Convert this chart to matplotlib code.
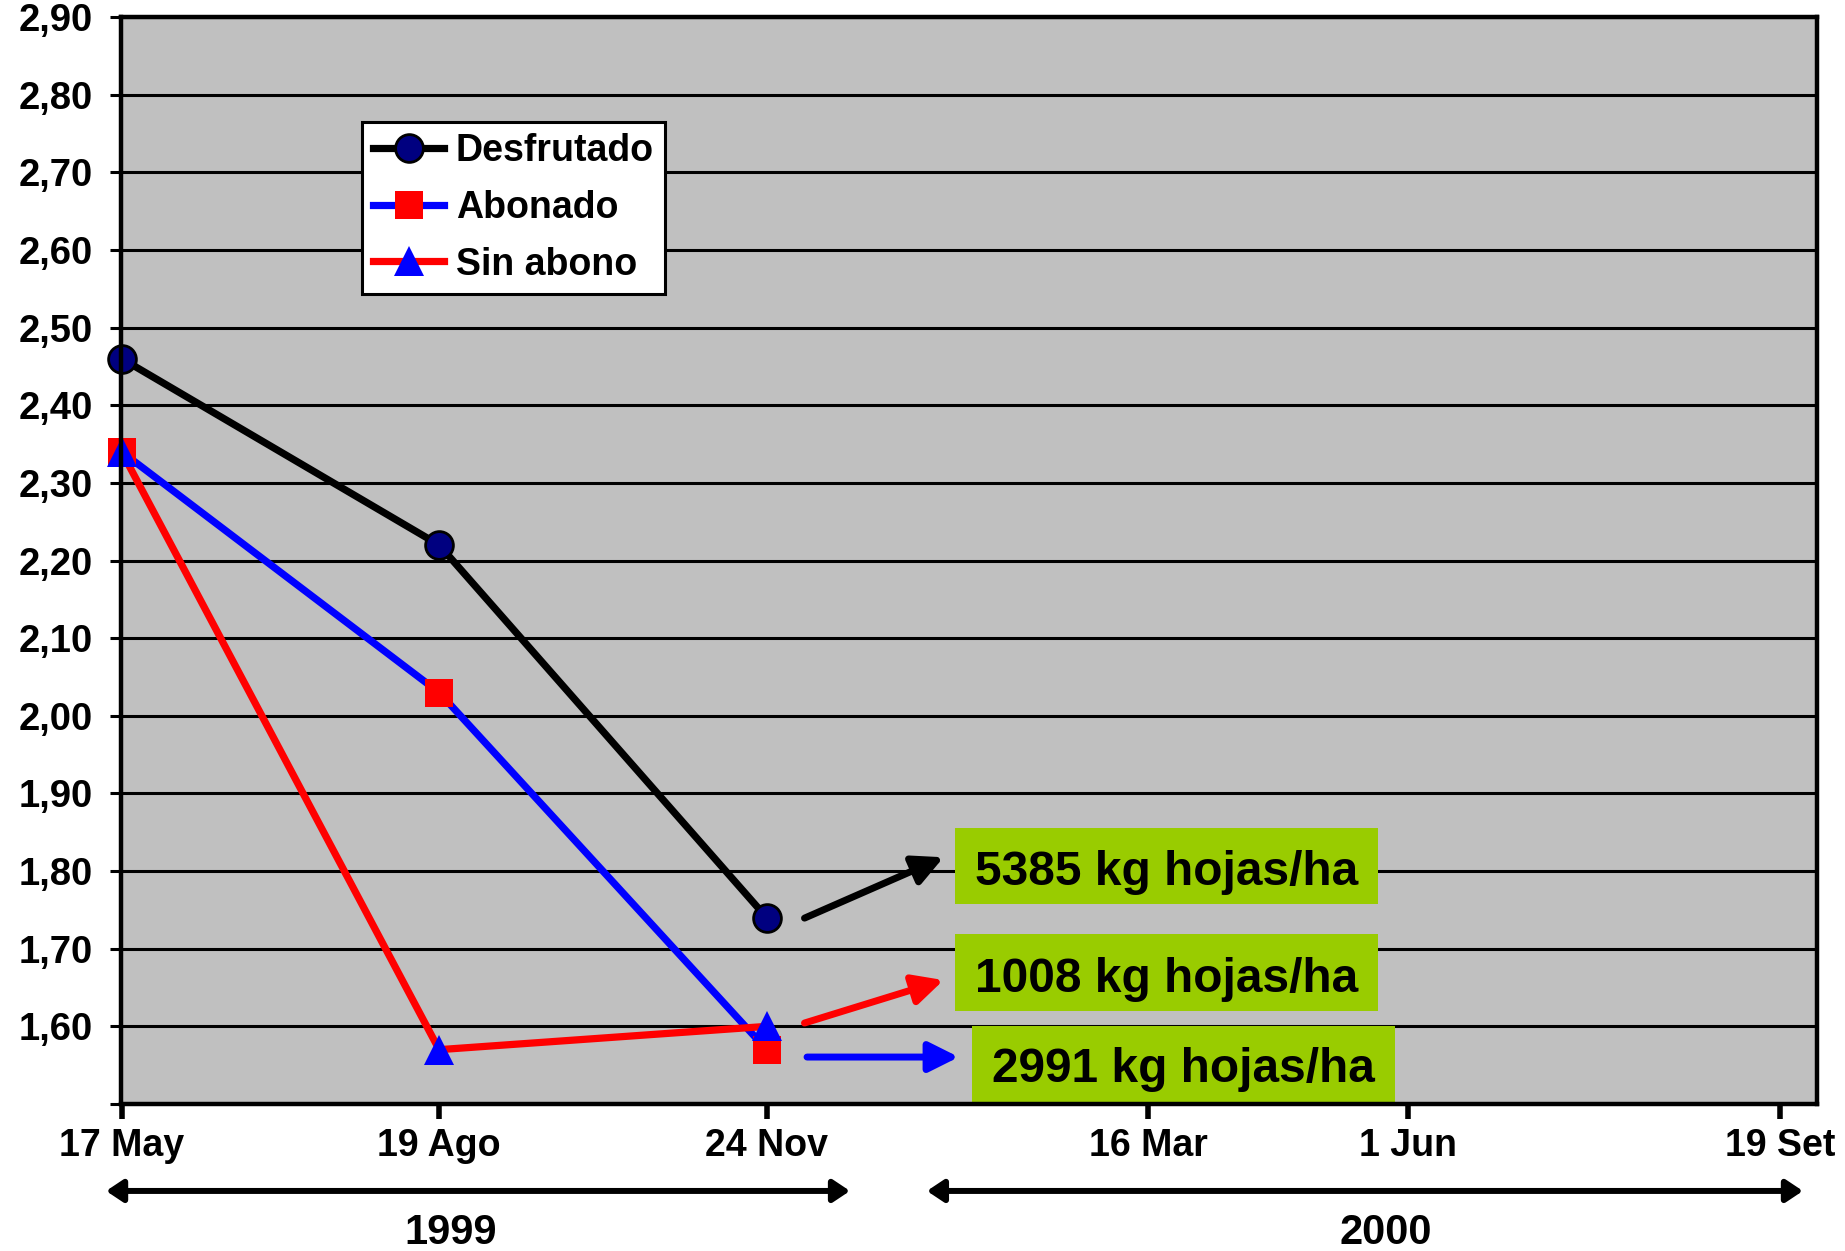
import numpy as np
import matplotlib
matplotlib.use('Agg')
import matplotlib.pyplot as plt
import matplotlib.dates as mdates
from matplotlib.patches import Rectangle
from matplotlib.ticker import FuncFormatter

plt.rcParams['font.family'] = ['Liberation Sans', 'DejaVu Sans']
plt.rcParams['font.weight'] = 'bold'

# datos
fechas = ['1999-05-17', '1999-08-19', '1999-11-24']
desfrutado = [2.46, 2.22, 1.74]
abonado = [2.34, 2.03, 1.57]
sin_abono = [2.34, 1.57, 1.60]

tick_fechas = ['1999-05-17', '1999-08-19', '1999-11-24', '2000-03-16', '2000-06-01', '2000-09-19']
tick_textos = ['17 May', '19 Ago', '24 Nov', '16 Mar', '1 Jun', '19 Set']

rendimientos = ['5385 kg hojas/ha', '1008 kg hojas/ha', '2991 kg hojas/ha']
anios = ['1999', '2000']

x = mdates.date2num(np.array(fechas, dtype='datetime64[D]'))
xt = mdates.date2num(np.array(tick_fechas, dtype='datetime64[D]'))

fig = plt.figure(figsize=(18.45, 12.51), dpi=100)
ax = fig.add_axes([0.0656, 0.1175, 0.9192, 0.8689])
ax.set_facecolor('#C0C0C0')

# series
ax.plot(x, desfrutado, color='black', lw=5.2, marker='o', ms=20,
        mfc='#000080', mec='black', mew=2, label='Desfrutado', zorder=3, clip_on=False)
ax.plot(x, abonado, color='#0000FF', lw=5.2, marker='s', ms=20,
        mfc='#FF0000', mec='#FF0000', mew=0, label='Abonado', zorder=3, clip_on=False)
ax.plot(x, sin_abono, color='#FF0000', lw=5.2, marker='^', ms=21,
        mfc='#0000FF', mec='#0000FF', mew=0, label='Sin abono', zorder=3, clip_on=False)

# ejes
ax.set_xlim(mdates.date2num(np.datetime64('1999-05-17')) - 0.2,
            mdates.date2num(np.datetime64('2000-09-30')))
ax.set_ylim(1.50, 2.90)
ax.set_yticks(np.round(np.arange(1.50, 2.901, 0.10), 2))
ax.yaxis.set_major_formatter(FuncFormatter(
    lambda v, p: '' if abs(v - 1.5) < 1e-6 else f'{v:.2f}'.replace('.', ',')))
ax.set_xticks(xt)
ax.set_xticklabels(tick_textos)

ax.grid(axis='y', color='black', lw=2.2, zorder=1)
ax.set_axisbelow(True)
for s in ax.spines.values():
    s.set_linewidth(3.2)
    s.set_zorder(5)
ax.tick_params(axis='y', labelsize=27.5, length=8, width=2.2, pad=12)
ax.tick_params(axis='x', labelsize=27, length=11, width=4, pad=6)

# leyenda
leg = ax.legend(loc='upper left', bbox_to_anchor=(0.142, 0.9034), borderaxespad=0,
                fontsize=27, fancybox=False, framealpha=1, edgecolor='black',
                handlelength=1.9, handletextpad=0.3, labelspacing=0.55,
                borderpad=0.3)
leg.get_frame().set_linewidth(2.2)
leg.set_zorder(6)

# cajas verdes con rendimientos
cajas = [(0.4917, 0.184, 0.7412, 0.254, 0.2015),
         (0.4917, 0.0856, 0.7412, 0.1564, 0.103),
         (0.5018, 0.0018, 0.7512, 0.0718, 0.0202)]
for (x0, y0, x1, y1, yb), txt in zip(cajas, rendimientos):
    ax.add_patch(Rectangle((x0, y0), x1 - x0, y1 - y0, transform=ax.transAxes,
                           facecolor='#99CC00', edgecolor='none', zorder=2))
    ax.text((x0 + x1) / 2, yb, txt, transform=ax.transAxes, ha='center',
            va='baseline', fontsize=34.5, fontweight='bold', zorder=4)

# flechas
flechas = [((0.403, 0.171), (0.485, 0.227), 'black'),
           ((0.403, 0.0745), (0.485, 0.114), '#FF0000'),
           ((0.4045, 0.0432), (0.494, 0.0432), '#0000FF')]
for ini, fin, col in flechas:
    ax.annotate('', xy=fin, xytext=ini, xycoords='axes fraction',
                arrowprops=dict(arrowstyle='-|>', color=col, lw=5,
                                mutation_scale=45, shrinkA=0, shrinkB=0),
                zorder=4)

# flechas de años
for (xa, xb), txt, xc in zip([(0.0575, 0.4607), (0.5024, 0.9772)], anios, [0.2444, 0.7512]):
    ax.annotate('', xy=(xb, 0.048), xytext=(xa, 0.048), xycoords='figure fraction',
                arrowprops=dict(arrowstyle='<|-|>,head_length=0.45,head_width=0.3',
                                color='black', lw=4.3, mutation_scale=22,
                                shrinkA=0, shrinkB=0),
                annotation_clip=False)
    fig.text(xc, 0.0056, txt, ha='center', va='baseline', fontsize=30, fontweight='bold')

fig.savefig('out.png', dpi=100)
